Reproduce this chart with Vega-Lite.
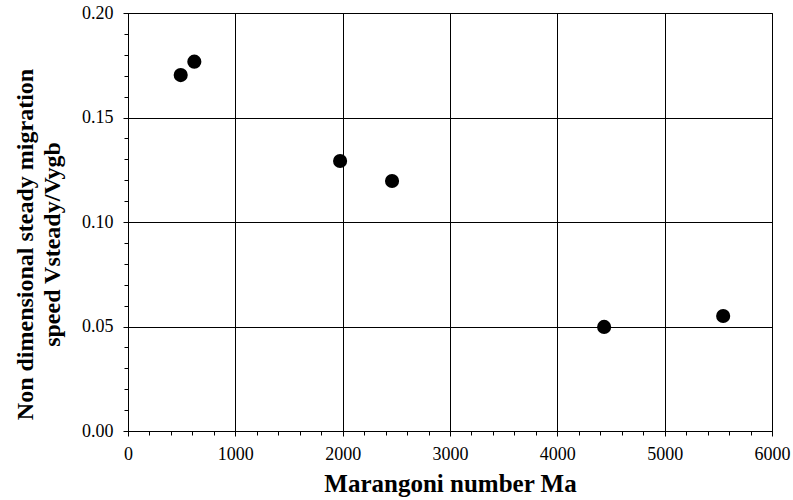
{
  "$schema": "https://vega.github.io/schema/vega-lite/v6.json",
  "width": 644,
  "height": 418,
  "autosize": "none",
  "padding": {"left": 128, "top": 13, "right": 21, "bottom": 69},
  "background": "white",
  "config": {
    "view": {"stroke": "black", "strokeWidth": 1},
    "font": "Liberation Serif",
    "axis": {
      "labelFont": "Liberation Serif",
      "titleFont": "Liberation Serif",
      "labelColor": "black",
      "titleColor": "black",
      "domainColor": "black",
      "tickColor": "black",
      "gridColor": "black",
      "gridOpacity": 1,
      "gridWidth": 1,
      "domainWidth": 1,
      "tickWidth": 1
    }
  },
  "data": {
    "values": [
      {"Ma": 491, "speed": 0.1703},
      {"Ma": 618, "speed": 0.1767},
      {"Ma": 1976, "speed": 0.1292},
      {"Ma": 2460, "speed": 0.1196},
      {"Ma": 4436, "speed": 0.0498},
      {"Ma": 5545, "speed": 0.0550}
    ]
  },
  "resolve": {"axis": {"x": "independent", "y": "independent"}},
  "layer": [
    {
      "mark": {"type": "circle", "size": 200, "color": "black", "opacity": 1},
      "encoding": {
        "x": {
          "field": "Ma",
          "type": "quantitative",
          "scale": {"domain": [0, 6000], "nice": false, "zero": false},
          "axis": {
            "orient": "bottom",
            "values": [0, 1000, 2000, 3000, 4000, 5000, 6000],
            "format": "d",
            "grid": true,
            "tickSize": 5,
            "labelFontSize": 18,
            "labelPadding": 9,
            "labelFlush": false,
            "title": "Marangoni number Ma",
            "titleFontSize": 25,
            "titleFontWeight": "bold",
            "titlePadding": 8
          }
        },
        "y": {
          "field": "speed",
          "type": "quantitative",
          "scale": {"domain": [0, 0.2], "nice": false, "zero": false},
          "axis": {
            "orient": "left",
            "values": [0, 0.05, 0.1, 0.15, 0.2],
            "format": ".2f",
            "grid": true,
            "tickSize": 5,
            "labelFontSize": 18,
            "labelPadding": 10,
            "labelFlush": false,
            "title": ["Non dimensional steady migration", "speed Vsteady/Vygb"],
            "titleFontSize": 24,
            "titleFontWeight": "bold",
            "titleLineHeight": 27,
            "titleY": 231,
            "titlePadding": 17
          }
        }
      }
    },
    {
      "mark": {"type": "circle", "size": 200, "opacity": 0},
      "encoding": {
        "x": {
          "field": "Ma",
          "type": "quantitative",
          "axis": {
            "orient": "bottom",
            "values": [200, 400, 600, 800, 1200, 1400, 1600, 1800, 2200, 2400, 2600, 2800, 3200, 3400, 3600, 3800, 4200, 4400, 4600, 4800, 5200, 5400, 5600, 5800],
            "labels": false,
            "grid": false,
            "domain": false,
            "tickSize": 4,
            "title": null
          }
        },
        "y": {
          "field": "speed",
          "type": "quantitative",
          "axis": {
            "orient": "left",
            "values": [0.01, 0.02, 0.03, 0.04, 0.06, 0.07, 0.08, 0.09, 0.11, 0.12, 0.13, 0.14, 0.16, 0.17, 0.18, 0.19],
            "labels": false,
            "grid": false,
            "domain": false,
            "tickSize": 4,
            "title": null
          }
        }
      }
    }
  ]
}
